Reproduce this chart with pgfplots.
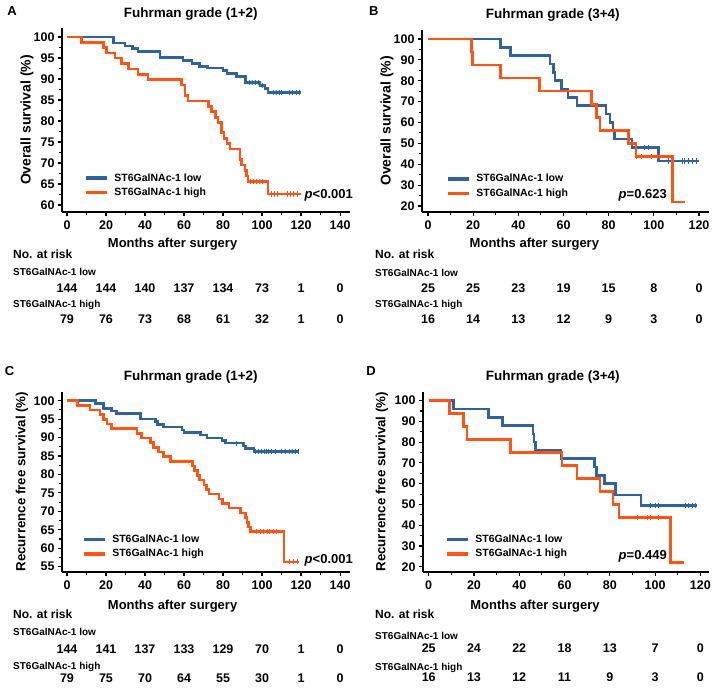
\documentclass[border=0pt]{standalone}
\usepackage{fontspec}
\setmainfont{Liberation Sans}
\usepackage{pgfplots}
\pgfplotsset{compat=1.18}
\definecolor{kmblue}{RGB}{48,98,158}
\definecolor{kmred}{RGB}{255,84,20}

\pgfplotsset{
  km/.style={
    scale only axis, axis x line*=bottom, axis y line*=left,
    axis line style={line width=1.6pt},
    tick style={black, line width=1.1pt},
    tick align=outside, major tick length=4pt, minor tick length=3pt,
    minor tick num=1, enlargelimits=false,
    /pgf/number format/assume math mode=true,
    ticklabel style={font=\bfseries\fontsize{12.5}{14}\selectfont},
    xticklabel style={yshift=-1.5pt},
    title style={font=\bfseries\fontsize{13.5}{16}\selectfont, anchor=center},
    ylabel style={font=\bfseries\fontsize{14}{16}\selectfont, anchor=center},
    xlabel={Months after surgery},
    xlabel style={font=\bfseries\fontsize{13}{15}\selectfont, anchor=center},
    legend cell align=left,
    legend style={draw=none, fill=none, font=\bfseries\fontsize{10.5}{12}\selectfont,
      anchor=north west, inner sep=0pt, row sep=3.5pt, column sep=5pt, nodes={inner sep=1pt}},
    legend image code/.code={\draw[#1, line width=3.2pt] (0pt,0pt) -- (21pt,0pt);},
    clip=false,
  },
  low/.style={kmblue, line width=2.6pt, const plot, mark=none},
  high/.style={kmred, line width=2.6pt, const plot, mark=none},
  cens/.style={only marks, mark=|, mark size=2.6pt, line width=0.8pt, forget plot},
}

\begin{document}
\begin{tikzpicture}[x=1pt, y=1pt]
\path[use as bounding box] (0,0) rectangle (714,-688);

% ---------- A ----------
\begin{axis}[km, at={(62pt,-212pt)}, anchor=south west, width=288pt, height=184pt,
  xmin=-2.56, xmax=145.1, ymin=58.33, ymax=102.14,
  xtick={0,20,...,140}, ytick={60,65,...,100},
  title={Fuhrman grade (1+2)}, title style={at={(0.447,1.043)}},
  ylabel={Overall survival (\%)}, ylabel style={at={(-0.1215,0.5)}},
  xlabel style={at={(0.384,-0.174)}},
  legend style={at={(0.0764,0.216)}}]
\addplot[low] coordinates {(0,100) (23.8,98.6) (29.7,97.9) (33.5,97.2) (36.5,96.5) (47.7,95.1)
  (59.5,94.4) (64,93.7) (68,93.0) (72,92.6) (80,92.0) (82,91.3) (87,90.6) (91.5,89.2)
  (99,88.5) (101.5,87.8) (103,86.8) (120,86.8)};
\addlegendentry{ST6GalNAc-1 low}
\addplot[high] coordinates {(0,100) (7.5,98.7) (18.6,97.5) (20.4,96.2) (24.6,95.0) (28,93.7)
  (31.4,92.4) (36.5,91.1) (41.6,89.9) (58.8,88.6) (60.5,86.1) (62,84.8) (72.4,83.5) (74.2,82.2)
  (76,80.9) (77.4,79.7) (79.3,77.2) (80.5,75.9) (82,74.6) (83.6,73.3) (88.7,70.8) (89.5,69.5)
  (91.3,68.2) (92,66.9) (92.8,65.6) (103,62.6) (120,62.6)};
\addlegendentry{ST6GalNAc-1 high}
\addplot[cens, kmblue] coordinates {(93.5,89.2) (95,89.2) (96.5,89.2) (98,89.2) (100,88.5)
  (106,86.8) (107.5,86.8) (109,86.8) (110,86.8) (114,86.8) (115.5,86.8) (117.5,86.8) (119,86.8)};
\addplot[cens, kmred] coordinates {(94,65.6) (95.5,65.6) (97,65.6) (98.5,65.6) (100,65.6)
  (105,62.6) (106.5,62.6) (108,62.6) (113,62.6) (114.5,62.6) (116,62.6) (118,62.6)};
\end{axis}

% ---------- B ----------
\begin{axis}[km, at={(422pt,-211.7pt)}, anchor=south west, width=286.7pt, height=181.7pt,
  xmin=-2.66, xmax=124.3, ymin=17.27, ymax=104.3,
  xtick={0,20,...,120}, ytick={20,30,...,100},
  title={Fuhrman grade (3+4)}, title style={at={(0.456,1.05)}},
  ylabel={Overall survival (\%)}, ylabel style={at={(-0.122,0.5)}},
  xlabel style={at={(0.392,-0.178)}},
  legend style={at={(0.0837,0.212)}}]
\addplot[low] coordinates {(0,100) (32,96) (36.5,92) (54,88) (55.5,84) (56.2,80) (59,76)
  (62,72) (66,68) (78.8,64) (80.5,60) (82,56) (82.6,52) (90.3,48) (102,41.6) (120,41.6)};
\addlegendentry{ST6GalNAc-1 low}
\addplot[high] coordinates {(0,100) (19.2,93.75) (19.8,87.5) (32,81.25) (49.5,75) (72.5,68.75)
  (74.7,62.5) (76.2,56.25) (88.8,50) (92.1,43.75) (108.2,21.9) (113.8,21.9)};
\addlegendentry{ST6GalNAc-1 high}
\addplot[cens, kmblue] coordinates {(96,48) (97.5,48) (106.5,41.6) (112.5,41.6) (113.7,41.6)
  (115.2,41.6) (117,41.6) (119,41.6)};
\addplot[cens, kmred] coordinates {(92.5,43.75) (94.5,43.75) (98.8,43.75) (101.4,43.75)};
\end{axis}

% ---------- C ----------
\begin{axis}[km, at={(62pt,-571.7pt)}, anchor=south west, width=288pt, height=180pt,
  xmin=-2.56, xmax=145.1, ymin=53.64, ymax=102.44,
  xtick={0,20,...,140}, ytick={55,60,...,100},
  title={Fuhrman grade (1+2)}, title style={at={(0.447,1.048)}},
  ylabel={Recurrence free survival (\%)},
  ylabel style={at={(-0.139,0.5)}, font=\bfseries\fontsize{13.3}{15}\selectfont},
  xlabel style={at={(0.384,-0.194)}},
  legend style={at={(0.069,0.212)}}]
\addplot[low] coordinates {(0,100) (14.5,99.3) (18.6,97.9) (22.9,97.2) (25.5,96.5) (37.6,95.0)
  (45.3,94.3) (46.5,93.6) (49.5,92.9) (59,92.1) (60,91.4) (68.4,90.7) (71.8,89.9) (79.5,89.2)
  (81.2,88.5) (90.6,87.7) (91.5,87.0) (95.8,86.3) (119,86.3)};
\addlegendentry{ST6GalNAc-1 low}
\addplot[high] coordinates {(0,100) (5.3,98.7) (11.8,97.5) (17,96.2) (18.6,94.9) (20.5,93.7)
  (22.9,92.4) (35.8,91.1) (38.3,89.9) (42.7,88.6) (44.4,87.3) (47,86.1) (49.5,84.8) (53,83.5)
  (64.3,82.3) (65.5,81.0) (66.8,79.7) (68,78.5) (70.3,77.2) (71.5,75.9) (72.8,74.7) (78,73.4)
  (79.7,72.1) (83.1,70.9) (89,69.6) (91.6,68.3) (92.3,67.0) (93,65.8) (94.2,64.5) (111.2,56.3)
  (119,56.3)};
\addlegendentry{ST6GalNAc-1 high}
\addplot[cens, kmblue] coordinates {(87,88.5) (96.5,86.3) (98,86.3) (99.5,86.3) (101,86.3)
  (102,86.3) (103.5,86.3) (105,86.3) (107,86.3) (110,86.3) (112,86.3) (114,86.3) (115.5,86.3)
  (117,86.3) (118.5,86.3)};
\addplot[cens, kmred] coordinates {(97,64.5) (99,64.5) (100.5,64.5) (102.5,64.5) (104,64.5)
  (106,64.5) (107.5,64.5) (114,56.3) (116,56.3) (118,56.3)};
\end{axis}

% ---------- D ----------
\begin{axis}[km, at={(423pt,-571.7pt)}, anchor=south west, width=285.7pt, height=180pt,
  xmin=-2.52, xmax=123.7, ymin=17.6, ymax=104.3,
  xtick={0,20,...,120}, ytick={20,30,...,100},
  title={Fuhrman grade (3+4)}, title style={at={(0.454,1.048)}},
  ylabel={Recurrence free survival (\%)},
  ylabel style={at={(-0.1435,0.5)}, font=\bfseries\fontsize{13.3}{15}\selectfont},
  xlabel style={at={(0.392,-0.194)}},
  legend style={at={(0.077,0.212)}}]
\addplot[low] coordinates {(0,100) (11,96) (26.5,92) (32.7,88) (46.1,84) (46.6,80) (47.1,76)
  (58.5,72) (73.2,68) (74.1,64) (77.6,60) (82.5,54.5) (93.8,49.5) (118.6,49.5)};
\addlegendentry{ST6GalNAc-1 low}
\addplot[high] coordinates {(0,100) (9.3,93.75) (15.5,87.5) (16.9,81.25) (36.1,75) (58.9,68.75)
  (65.5,62.5) (75.6,56.25) (81.4,50) (84,43.75) (106.8,21.9) (112.7,21.9)};
\addlegendentry{ST6GalNAc-1 high}
\addplot[cens, kmblue] coordinates {(98,49.5) (100.1,49.5) (101.6,49.5) (113.4,49.5)
  (114.9,49.5) (116.4,49.5) (117.8,49.5)};
\addplot[cens, kmred] coordinates {(92,43.75) (96.5,43.75) (98,43.75) (101.6,43.75)};
\end{axis}

% panel letters
\begin{scope}[every node/.style={font=\bfseries\fontsize{13}{15}\selectfont}]
\node at (12,-11) {A};
\node at (373.7,-11) {B};
\node at (9.5,-371) {C};
\node at (371,-371) {D};
\end{scope}

% p values
\begin{scope}[every node/.style={font=\bfseries\fontsize{13}{15}\selectfont, anchor=east, inner sep=0pt}]
\node at (353,-195) {\textit{p}<0.001};
\node at (667,-195) {\textit{p}=0.623};
\node at (353,-560) {\textit{p}<0.001};
\node at (667,-556.7) {\textit{p}=0.449};
\end{scope}

% numbers at risk
\begin{scope}[every node/.style={inner sep=0pt}]
\tikzset{hdr/.style={anchor=west, font=\bfseries\fontsize{12}{14}\selectfont},
  grp/.style={anchor=west, font=\bfseries\fontsize{10}{12}\selectfont},
  num/.style={font=\bfseries\fontsize{12.5}{14}\selectfont}}
% A
\node[hdr] at (13,-254) {No. at risk};
\node[grp] at (13,-272) {ST6GalNAc-1 low};
\node[grp] at (13,-305) {ST6GalNAc-1 high};
\foreach \v [count=\i from 0] in {144,144,140,137,134,73,1,0}
  \node[num] at ({67+39*\i},-288) {\v};
\foreach \v [count=\i from 0] in {79,76,73,68,61,32,1,0}
  \node[num] at ({67+39*\i},-319) {\v};
% B
\node[hdr] at (375,-254) {No. at risk};
\node[grp] at (375,-273) {ST6GalNAc-1 low};
\node[grp] at (375,-305) {ST6GalNAc-1 high};
\foreach \v [count=\i from 0] in {25,25,23,19,15,8,0}
  \node[num] at ({428+45.17*\i},-288) {\v};
\foreach \v [count=\i from 0] in {16,14,13,12,9,3,0}
  \node[num] at ({428+45.17*\i},-319) {\v};
% C
\node[hdr] at (13,-614) {No. at risk};
\node[grp] at (13,-632.3) {ST6GalNAc-1 low};
\node[grp] at (13,-666.7) {ST6GalNAc-1 high};
\foreach \v [count=\i from 0] in {144,141,137,133,129,70,1,0}
  \node[num] at ({67+39*\i},-649) {\v};
\foreach \v [count=\i from 0] in {79,75,70,64,55,30,1,0}
  \node[num] at ({67+39*\i},-678.3) {\v};
% D
\node[hdr] at (375,-614) {No. at risk};
\node[grp] at (375,-635.7) {ST6GalNAc-1 low};
\node[grp] at (375,-668.3) {ST6GalNAc-1 high};
\foreach \v [count=\i from 0] in {25,24,22,18,13,7,0}
  \node[num] at ({428.7+45.27*\i},-648.3) {\v};
\foreach \v [count=\i from 0] in {16,13,12,11,9,3,0}
  \node[num] at ({428.7+45.27*\i},-677.3) {\v};
\end{scope}
\end{tikzpicture}
\end{document}
